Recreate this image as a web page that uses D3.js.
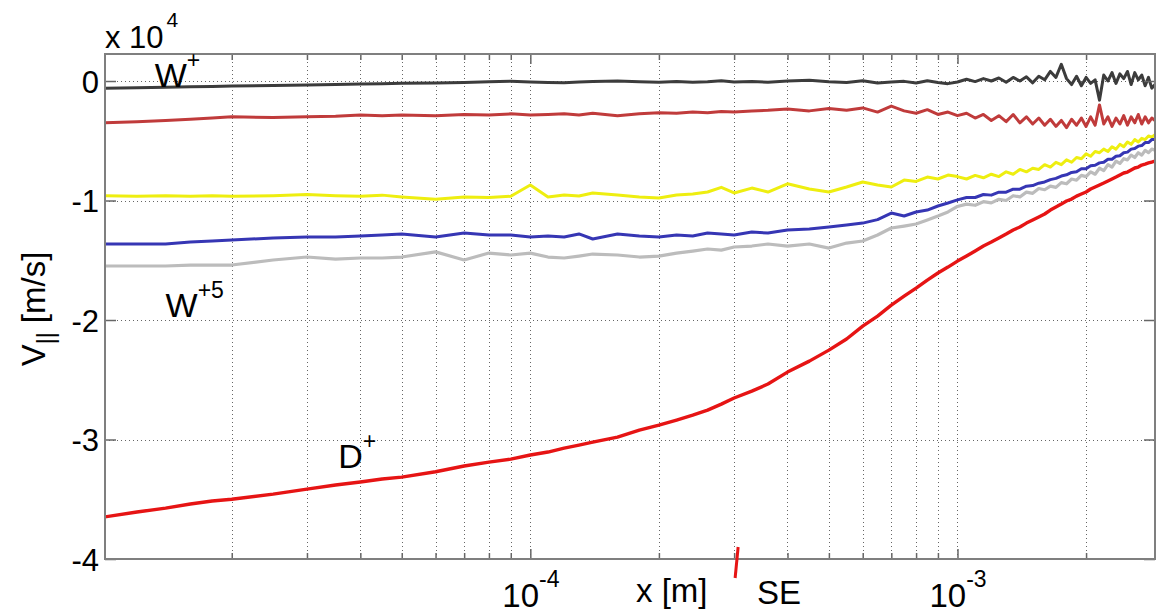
<!DOCTYPE html>
<html>
<head>
<meta charset="utf-8">
<script src="https://cdn.jsdelivr.net/npm/d3@7"></script>
<style>
  body { margin: 0; background: #fff; }
  text { font-family: "Liberation Sans", Arial, Helvetica, sans-serif; fill: #000; }
</style>
</head>
<body>
<svg id="plot"></svg>
<script>
// x positions [m], shared by all six curves
var xs = [
  1.0e-5, 1.2e-5, 1.4e-5, 1.6e-5, 1.8e-5, 2.0e-5, 2.5e-5, 3.0e-5, 3.5e-5, 4.0e-5, 4.5e-5, 5.0e-5, 6.0e-5, 7.0e-5, 8.0e-5, 9.0e-5,
  1.0e-4, 1.1e-4, 1.2e-4, 1.3e-4, 1.4e-4, 1.6e-4, 1.8e-4, 2.0e-4, 2.2e-4, 2.4e-4, 2.6e-4, 2.8e-4, 3.0e-4, 3.3e-4, 3.6e-4, 4.0e-4, 4.5e-4,
  5.0e-4, 5.5e-4, 6.0e-4, 6.5e-4, 7.0e-4, 7.5e-4, 8.0e-4, 8.5e-4, 9.0e-4, 9.5e-4,
  1.00e-3, 1.05e-3, 1.10e-3, 1.15e-3, 1.20e-3, 1.25e-3, 1.30e-3, 1.35e-3, 1.40e-3, 1.45e-3, 1.50e-3, 1.55e-3, 1.60e-3,
  1.65e-3, 1.70e-3, 1.75e-3, 1.80e-3, 1.85e-3, 1.90e-3, 1.95e-3, 2.00e-3, 2.05e-3, 2.10e-3, 2.15e-3, 2.20e-3, 2.25e-3,
  2.30e-3, 2.35e-3, 2.40e-3, 2.45e-3, 2.50e-3, 2.55e-3, 2.60e-3, 2.65e-3, 2.70e-3, 2.75e-3, 2.80e-3, 2.85e-3, 2.90e-3
];

// V|| [m/s] for each curve
var vWplus = [
  -600, -560, -520, -480, -450, -420, -380, -330, -300, -250, -220, -180, -160, -120, -60, -20,
  -80, -120, -150, -90, -50, 0, -60, -100, -40, -110, -60, 20, -90, -40, -110, 0, 60,
  -60, -120, 20, -160, -80, -30, -170, 20, -120, -220,
  -80, 150, -50, 200, 0, 250, -100, 300, 0, 350, -150, 400, 100,
  800, 300, 1400, 200, -300, 400, -400, 300, -200, 100, -1600, 500, 0,
  700, -200, 600, 200, 800, -300, 700, 100, 500, -400, 300, -600, -300
];
var vDarkRed = [
  -3500, -3400, -3300, -3200, -3100, -3000, -3050, -3000, -2950, -2850, -2900, -2850, -2900, -2800, -2850, -2750,
  -2850, -2800, -2750, -2850, -2700, -2900, -2750, -2650, -2700, -2600, -2650, -2550, -2600, -2500, -2450, -2350, -2500,
  -2300, -2450, -2250, -2600, -2100, -2500, -2700, -2400, -2800, -2600,
  -2900, -2700, -3100, -2800, -3300, -2900, -3400, -2800, -3500, -3000, -3600, -3100, -3700,
  -3200, -3800, -3300, -3900, -3200, -3700, -3100, -3800, -3000, -3700, -2000, -3600, -3000,
  -3800, -3100, -3600, -2900, -3700, -3000, -3500, -2800, -3600, -3000, -3500, -3100, -3300
];
var vYellow = [
  -9600, -9650, -9600, -9650, -9600, -9650, -9600, -9500, -9600, -9650, -9550, -9700, -9900, -9700, -9750, -9650,
  -8700, -9700, -9540, -9620, -9370, -9540, -9700, -9790, -9540, -9460, -9290, -8900, -9370, -8960, -9290, -8600, -9040,
  -9290, -8870, -8450, -8700, -8870, -8290, -8400, -8040, -8200, -7870,
  -8000, -8200, -7900, -8100, -7800, -8000, -7600, -7800, -7400, -7600, -7300, -7400, -7000,
  -7200, -6800, -7000, -6600, -6800, -6400, -6500, -6100, -6300, -5900, -6000, -5700, -5900,
  -5500, -5700, -5300, -5500, -5100, -5300, -4900, -5100, -4800, -4900, -4600, -4700, -4500
];
var vBlue = [
  -13640, -13640, -13640, -13480, -13390, -13310, -13140, -13060, -13060, -12970, -12890, -12800, -13060, -12720, -12890, -12890,
  -13060, -12970, -13060, -12800, -13220, -12800, -12970, -13060, -12890, -12970, -12720, -12800, -12890, -12640, -12720, -12470, -12390,
  -12220, -12050, -11890, -11600, -11050, -11300, -10960, -10800, -10460, -10210,
  -9950, -9750, -9750, -9500, -9550, -9300, -9300, -9050, -9050, -8800, -8750, -8550, -8450,
  -8250, -8150, -7950, -7850, -7650, -7600, -7350, -7350, -7100, -7050, -6850, -6800, -6550,
  -6550, -6300, -6250, -6000, -5950, -5700, -5650, -5450, -5400, -5150, -5150, -4900, -4900
];
var vWplus5 = [
  -15480, -15480, -15480, -15400, -15400, -15400, -14980, -14730, -14900, -14810, -14810, -14730, -14300, -14980, -14400, -14560,
  -14400, -14730, -14810, -14650, -14480, -14560, -14730, -14650, -14400, -14230, -14060, -14150, -13890, -13810, -13640, -13810, -13640,
  -13980, -13560, -13390, -12890, -12300, -12140, -11970, -11630, -11300, -10960,
  -10500, -10300, -10400, -10100, -10200, -9900, -10000, -9600, -9700, -9300, -9400, -9000, -9100,
  -8800, -8900, -8500, -8600, -8200, -8300, -7900, -8000, -7600, -7800, -7300, -7500, -7000,
  -7200, -6700, -6900, -6500, -6600, -6200, -6400, -6000, -6200, -5800, -6000, -5700, -5800
];
var vDplus = [
  -36500, -36070, -35740, -35400, -35150, -35000, -34570, -34150, -33810, -33560, -33310, -33150, -32700, -32220, -31890, -31640,
  -31300, -31050, -30720, -30470, -30220, -29800, -29210, -28790, -28370, -27960, -27540, -27040, -26530, -25950, -25360, -24360, -23440,
  -22520, -21590, -20510, -19670, -18750, -18000, -17330, -16660, -16070, -15570,
  -15070, -14650, -14230, -13810, -13480, -13140, -12810, -12470, -12220, -11890, -11630, -11380, -11130,
  -10800, -10550, -10300, -10040, -9880, -9630, -9460, -9290, -9040, -8870, -8700, -8540, -8370,
  -8200, -8040, -7870, -7700, -7620, -7450, -7280, -7200, -7030, -6950, -6860, -6780, -6700
];

var yTicks = [-40000, -30000, -20000, -10000, 0];
var xMinorTicks = [2e-5, 3e-5, 4e-5, 5e-5, 6e-5, 7e-5, 8e-5, 9e-5,
  2e-4, 3e-4, 4e-4, 5e-4, 6e-4, 7e-4, 8e-4, 9e-4, 2e-3];
var xMajorTicks = [1e-4, 1e-3];
var xMajorExp = ["-4", "-3"];
var seX = 3e-4;   // sheath entrance

var series = [
  {v: vWplus,   color: "#3c3c3c", w: 3},
  {v: vDarkRed, color: "#c03b3b", w: 3},
  {v: vYellow,  color: "#eeee10", w: 3},
  {v: vBlue,    color: "#3636b4", w: 3},
  {v: vWplus5,  color: "#bcbcbc", w: 3.2},
  {v: vDplus,   color: "#e61414", w: 3.4}
];

// curve labels, in data coordinates
var labels = [
  {base: "W", sup: "+",  x: 1.32e-5, y: -500},
  {base: "W", sup: "+5", x: 1.40e-5, y: -19750},
  {base: "D", sup: "+",  x: 3.55e-5, y: -32400}
];

var W = 1156, H = 614;
var pL = 105, pR = 1155, pT = 54, pB = 559;

var svg = d3.select("#plot").attr("width", W).attr("height", H);

var x = d3.scaleLog().domain([1.01e-5, 2.9e-3]).range([pL, pR]);
var y = d3.scaleLinear().domain([-40000, 2260]).range([pB, pT]);

svg.append("clipPath").attr("id", "clip")
  .append("rect").attr("x", pL).attr("y", pT)
  .attr("width", pR - pL).attr("height", pB - pT);

// grid
var grid = svg.append("g").attr("stroke", "#666").attr("stroke-width", 1)
  .attr("stroke-dasharray", "1,3");
grid.selectAll(".gx").data(xMinorTicks.concat(xMajorTicks)).enter().append("line")
  .attr("x1", function(d){ return Math.round(x(d)) + 0.5 })
  .attr("x2", function(d){ return Math.round(x(d)) + 0.5 })
  .attr("y1", pT).attr("y2", pB);
grid.selectAll(".gy").data(yTicks).enter().append("line")
  .attr("y1", function(d){ return Math.round(y(d)) + 0.5 })
  .attr("y2", function(d){ return Math.round(y(d)) + 0.5 })
  .attr("x1", pL).attr("x2", pR);

// curves
var line = d3.line()
  .x(function(d){ return x(d[0]) })
  .y(function(d){ return y(d[1]) });

var plot = svg.append("g").attr("clip-path", "url(#clip)");
series.forEach(function(s) {
  plot.append("path")
    .datum(xs.map(function(xv, i){ return [xv, s.v[i]] }))
    .attr("fill", "none")
    .attr("stroke", s.color)
    .attr("stroke-width", s.w)
    .attr("stroke-linejoin", "round")
    .attr("d", line);
});

// axes (ticks inward)
function styleAxis(g) {
  g.select(".domain").remove();
  g.selectAll(".tick line").attr("stroke", "#666").attr("stroke-width", 1.5);
}
svg.append("g").attr("transform", "translate(" + pL + ",0)")
  .call(d3.axisLeft(y).tickValues(yTicks).tickSize(-11).tickPadding(6)
    .tickFormat(function(d){ return String(d / 1e4) }))
  .call(styleAxis)
  .selectAll("text").style("font-size", "31px").attr("dy", "0.36em");
svg.append("g").attr("transform", "translate(" + pR + ",0)")
  .call(d3.axisRight(y).tickValues(yTicks).tickSize(-11).tickFormat(""))
  .call(styleAxis);
svg.append("g").attr("transform", "translate(0," + pB + ")")
  .call(d3.axisBottom(x).tickValues(xMinorTicks).tickSize(-6).tickFormat(""))
  .call(styleAxis);
svg.append("g").attr("transform", "translate(0," + pB + ")")
  .call(d3.axisBottom(x).tickValues(xMajorTicks).tickSize(-10).tickFormat(""))
  .call(styleAxis);
svg.append("g").attr("transform", "translate(0," + pT + ")")
  .call(d3.axisTop(x).tickValues(xMinorTicks).tickSize(-6).tickFormat(""))
  .call(styleAxis);
svg.append("g").attr("transform", "translate(0," + pT + ")")
  .call(d3.axisTop(x).tickValues(xMajorTicks).tickSize(-10).tickFormat(""))
  .call(styleAxis);

// frame
svg.append("rect").attr("x", pL).attr("y", pT)
  .attr("width", pR - pL).attr("height", pB - pT)
  .attr("fill", "none").attr("stroke", "#7f7f7f").attr("stroke-width", 2);

// decade labels
xMajorTicks.forEach(function(d, i) {
  var t = svg.append("text").attr("x", x(d) - 28).attr("y", 607).style("font-size", "33px");
  t.append("tspan").text("10");
  t.append("tspan").attr("dy", -20).style("font-size", "23px").text(xMajorExp[i]);
});

// scale factor
var sf = svg.append("text").attr("x", pL).attr("y", 48).style("font-size", "31px");
sf.append("tspan").text("x 10");
sf.append("tspan").attr("dx", 3).attr("dy", -21).style("font-size", "21px").text("4");

// axis titles
svg.append("text").attr("x", 636).attr("y", 602).style("font-size", "33px").text("x [m]");
svg.append("text").attr("x", 757).attr("y", 604).style("font-size", "33px").text("SE");

var yl = svg.append("text")
  .attr("transform", "translate(45,309) rotate(-90)")
  .attr("text-anchor", "middle").style("font-size", "33px");
yl.append("tspan").text("V");
yl.append("tspan").attr("dy", 9).style("font-size", "23px").text("||");
yl.append("tspan").attr("dy", -9).text(" [m/s]");

// sheath entrance marker
svg.append("line")
  .attr("x1", x(seX) + 4).attr("y1", y(-40000) - 12)
  .attr("x2", x(seX) + 1).attr("y2", y(-40000) + 19)
  .attr("stroke", "#e61414").attr("stroke-width", 3);

// curve labels
labels.forEach(function(l) {
  var t = svg.append("text").attr("x", x(l.x)).attr("y", y(l.y)).style("font-size", "34px");
  t.append("tspan").text(l.base);
  t.append("tspan").attr("dy", -19).style("font-size", "23px").text(l.sup);
});
</script>
</body>
</html>
